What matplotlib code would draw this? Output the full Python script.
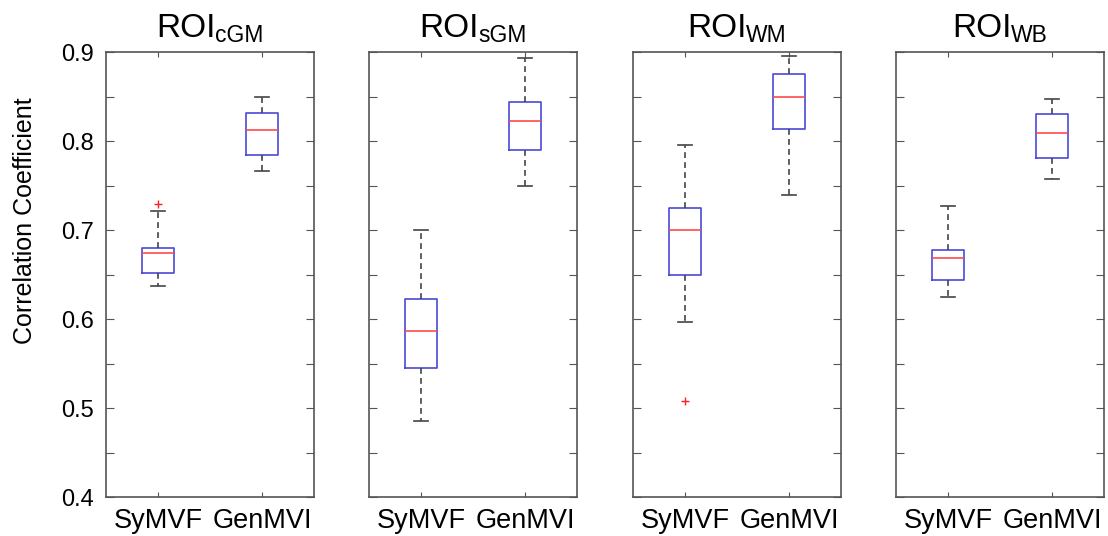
"""
Boxplots of correlation coefficients per ROI (SyMVF vs GenMVI)
"""

import matplotlib
matplotlib.use('Agg')
import matplotlib.pyplot as plt
from matplotlib.transforms import IdentityTransform

plt.rcParams['font.family'] = ['Liberation Sans', 'DejaVu Sans']

# ROI names (subscripts in titles) and methods
roi_subs = ['cGM', 'sGM', 'WM', 'WB']
methods = ['SyMVF', 'GenMVI']

# per ROI: [SyMVF, GenMVI]
whisker_low = [[0.637, 0.766], [0.485, 0.749], [0.597, 0.739], [0.625, 0.757]]
quart_1 = [[0.652, 0.784], [0.545, 0.790], [0.650, 0.814], [0.644, 0.781]]
medians = [[0.674, 0.812], [0.586, 0.822], [0.700, 0.849], [0.668, 0.809]]
quart_3 = [[0.680, 0.832], [0.622, 0.844], [0.725, 0.875], [0.677, 0.830]]
whisker_high = [[0.721, 0.850], [0.700, 0.893], [0.795, 0.895], [0.727, 0.847]]
outliers = [[[0.729], []], [[], []], [[0.508], []], [[], []]]

y_major = [0.4, 0.5, 0.6, 0.7, 0.8, 0.9]
y_minor = [0.45, 0.55, 0.65, 0.75, 0.85]

W, H = 1108, 536
fig = plt.figure(figsize=(W / 100, H / 100), dpi=100)

lefts = [106, 369, 633, 896]
ax_w = 208
top, bottom = 52, 497

spine_col = '#555555'
axes = []
for i, sub in enumerate(roi_subs):
    ax = fig.add_axes([lefts[i] / W, 1 - bottom / H, ax_w / W, (bottom - top) / H])
    axes.append(ax)

    stats = []
    for j, m in enumerate(methods):
        stats.append({
            'label': m,
            'whislo': whisker_low[i][j],
            'q1': quart_1[i][j],
            'med': medians[i][j],
            'q3': quart_3[i][j],
            'whishi': whisker_high[i][j],
            'fliers': outliers[i][j],
        })

    ax.bxp(stats, positions=[1, 2], widths=0.31, capwidths=0.135,
           boxprops=dict(color='#4a4ad6', linewidth=1.2),
           medianprops=dict(color='#ff4a4a', linewidth=1.2),
           whiskerprops=dict(color='#444444', linewidth=1.2, linestyle=(0, (3.5, 2.5))),
           capprops=dict(color='#444444', linewidth=1.2),
           flierprops=dict(marker='+', markeredgecolor='#ff2020', markersize=6,
                           markeredgewidth=1.0, linestyle='none'))

    ax.set_xlim(0.5, 2.5)
    ax.set_ylim(0.4, 0.9)
    ax.set_yticks(y_major)
    ax.set_yticks(y_minor, minor=True)
    ax.set_xticks([1, 2])
    ax.set_xticklabels(methods, fontsize=19.5)
    ax.tick_params(axis='y', which='both', direction='in', length=5.5, width=0.8,
                   color=spine_col, left=True, right=True, labelsize=17, pad=9)
    ax.tick_params(axis='x', direction='in', length=3.5, width=0.8, color=spine_col,
                   top=True, bottom=True, pad=8)
    if i == 0:
        ax.set_yticklabels([f'{v:.1f}' for v in y_major])
    else:
        ax.set_yticklabels([])
    for sp in ax.spines.values():
        sp.set_color(spine_col)
        sp.set_linewidth(1.2)

# titles: big "ROI" plus a smaller lowered subscript, centred over each panel
renderer = fig.canvas.get_renderer()
for i, sub in enumerate(roi_subs):
    main = fig.text(0, 0, 'ROI', fontsize=24, transform=IdentityTransform())
    small = fig.text(0, 0, sub, fontsize=16.5, transform=IdentityTransform())
    w1 = main.get_window_extent(renderer).width
    w2 = small.get_window_extent(renderer).width
    cx = lefts[i] + ax_w / 2
    x0 = cx - (w1 + w2) / 2
    base = H - 37
    main.set_position((x0, base))
    small.set_position((x0 + w1, base - 5))

fig.text(25 / W, 1 - 221 / H, 'Correlation Coefficient', fontsize=18,
         rotation=90, ha='center', va='center')

fig.savefig('out.png', dpi=100)
